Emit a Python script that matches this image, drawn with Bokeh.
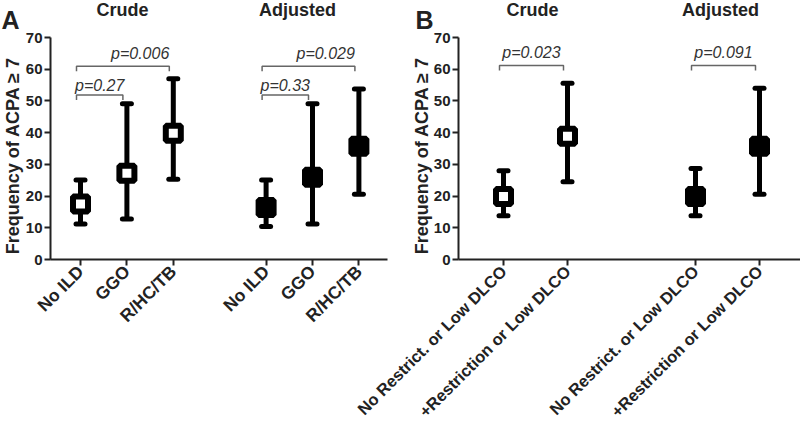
import math
from bokeh.plotting import figure
from bokeh.models import Range1d, FixedTicker, Label, LinearAxis
from bokeh.embed import file_html
from bokeh.resources import INLINE

# ---------------- data ----------------
group_names = ["Crude", "Adjusted"]
y_ticks = [0, 10, 20, 30, 40, 50, 60, 70]
y_label = "Frequency of ACPA \u2265 7"

# Panel A
a_categories = ["No ILD", "GGO", "R/HC/TB"]
a_crude_est = [17.5, 27.2, 39.8]
a_crude_low = [11.2, 12.8, 25.3]
a_crude_high = [25.1, 49.1, 57.0]
a_adj_est = [16.4, 25.9, 35.7]
a_adj_low = [10.4, 11.2, 20.6]
a_adj_high = [25.1, 49.1, 53.8]
# comparisons: (group, from category, to category, bracket level, p text)
a_comparisons = [
    (0, 0, 1, 51.9, "p=0.27"),
    (0, 0, 2, 60.9, "p=0.006"),
    (1, 0, 1, 51.9, "p=0.33"),
    (1, 0, 2, 60.9, "p=0.029"),
]

# Panel B
b_categories = ["No Restrict. or Low DLCO", "+Restriction or Low DLCO"]
b_crude_est = [19.9, 38.9]
b_crude_low = [13.8, 24.5]
b_crude_high = [28.0, 55.6]
b_adj_est = [19.9, 35.7]
b_adj_low = [13.8, 20.6]
b_adj_high = [28.7, 54.0]
b_comparisons = [
    (0, 0, 1, 61.2, "p=0.023"),
    (1, 0, 1, 61.2, "p=0.091"),
]

# ---------------- layout (screen pixels) ----------------
FONT = "Liberation Sans"
W, H = 800, 428
Y_TOP_PX, Y_ZERO_PX = 37, 259          # pixel rows of y=70 and y=0
SY = (Y_ZERO_PX - Y_TOP_PX) / 70.0


def yd(py):
    return (Y_ZERO_PX - py) / SY


p = figure(width=W, height=H, output_backend="svg", toolbar_location=None,
           x_axis_location=None, y_axis_location=None, min_border=0,
           y_range=Range1d(yd(H), yd(0)))
p.grid.visible = False
p.outline_line_color = None
p.background_fill_color = "white"
p.border_fill_color = "white"


def style_axis(ax):
    ax.axis_line_width = 2
    ax.axis_line_color = "#222222"
    ax.major_tick_line_width = 2
    ax.major_tick_line_color = "#222222"
    ax.major_tick_in = 0
    ax.major_tick_out = 6
    ax.minor_tick_line_color = None
    ax.major_label_text_font = FONT
    ax.major_label_text_font_style = "bold"
    ax.major_label_text_color = "#222222"


def add_panel(name, letter, cats, crude, adj, comps, frame_left, frame_right,
              tick1, spacing, ylab_x, title_xs, letter_x, xlab_size):
    n = len(cats)

    def xd(px):
        return 1 + (px - tick1) / spacing

    rng = Range1d(xd(0), xd(W))
    if name == "default":
        p.x_range = rng
        kw = {}
    else:
        p.extra_x_ranges[name] = rng
        kw = {"x_range_name": name}

    positions = [[g * (n + 1) + i + 1 for i in range(n)] for g in range(2)]
    labels = {}
    for g in range(2):
        for i in range(n):
            labels[positions[g][i]] = cats[i]

    xax = LinearAxis(ticker=FixedTicker(ticks=positions[0] + positions[1]),
                     major_label_overrides=labels, fixed_location=0,
                     bounds=(xd(frame_left), xd(frame_right)), **kw)
    style_axis(xax)
    xax.major_label_orientation = math.pi / 4
    xax.major_label_text_font_size = xlab_size
    xax.major_label_standoff = 3
    p.add_layout(xax, "below")

    yax = LinearAxis(ticker=FixedTicker(ticks=y_ticks), fixed_location=xd(frame_left),
                     bounds=(0, 70), **kw)
    style_axis(yax)
    yax.major_label_text_font_size = "15px"
    yax.major_label_standoff = 2
    p.add_layout(yax, "left")

    cap_w = 4.5 / spacing
    series = [(crude, "white"), (adj, "black")]
    for g, ((est, low, high), fill) in enumerate(series):
        xs = positions[g]
        p.segment(x0=xs, y0=low, x1=xs, y1=high, line_width=5, line_color="black", **kw)
        p.segment(x0=[x - cap_w for x in xs], y0=low, x1=[x + cap_w for x in xs], y1=low,
                  line_width=5, line_color="black", line_cap="round", **kw)
        p.segment(x0=[x - cap_w for x in xs], y0=high, x1=[x + cap_w for x in xs], y1=high,
                  line_width=5, line_color="black", line_cap="round", **kw)
        p.scatter(x=xs, y=est, marker="square", size=15, fill_color=fill,
                  line_color="black", line_width=6, **kw)

    off = 4 / spacing
    drop = 5 / SY
    for (g, i, j, lvl, txt) in comps:
        x0 = positions[g][i] - off
        x1 = positions[g][j] - off
        p.line(x=[x0, x0, x1, x1], y=[lvl - drop, lvl, lvl, lvl - drop],
               line_width=1.5, line_color="#666666", **kw)
        if j - i == 1:
            tx, align = (x0 + x1) / 2, "center"
        else:
            tx, align = x1, "right"
        gap = 12.5 if lvl > 56 else 9.5
        p.add_layout(Label(x=tx, y=lvl + gap / SY, text=txt, text_font=FONT,
                           text_font_style="italic", text_font_size="16px",
                           text_color="#333333", text_align=align,
                           text_baseline="middle", **kw))

    for g in range(2):
        p.add_layout(Label(x=xd(title_xs[g]), y=yd(9), text=group_names[g],
                           text_font=FONT, text_font_style="bold",
                           text_font_size="18px", text_color="#222222",
                           text_align="center", text_baseline="middle", **kw))
    p.add_layout(Label(x=xd(letter_x), y=yd(19), text=letter, text_font=FONT,
                       text_font_style="bold", text_font_size="25px",
                       text_color="#222222", text_align="left",
                       text_baseline="middle", **kw))
    p.add_layout(Label(x=xd(ylab_x), y=yd(155), text=y_label, angle=math.pi / 2,
                       text_font=FONT, text_font_style="bold",
                       text_font_size="18px", text_color="#222222",
                       text_align="center", text_baseline="middle", **kw))


add_panel("default", "A", a_categories, (a_crude_est, a_crude_low, a_crude_high),
          (a_adj_est, a_adj_low, a_adj_high), a_comparisons,
          frame_left=50, frame_right=387, tick1=80, spacing=46.4,
          ylab_x=12, title_xs=[122, 297], letter_x=1, xlab_size="17.5px")
add_panel("B", "B", b_categories, (b_crude_est, b_crude_low, b_crude_high),
          (b_adj_est, b_adj_low, b_adj_high), b_comparisons,
          frame_left=458, frame_right=800, tick1=503, spacing=64,
          ylab_x=421, title_xs=[532, 720], letter_x=415, xlab_size="16.5px")

open("out.html", "w").write(file_html(p, INLINE))
